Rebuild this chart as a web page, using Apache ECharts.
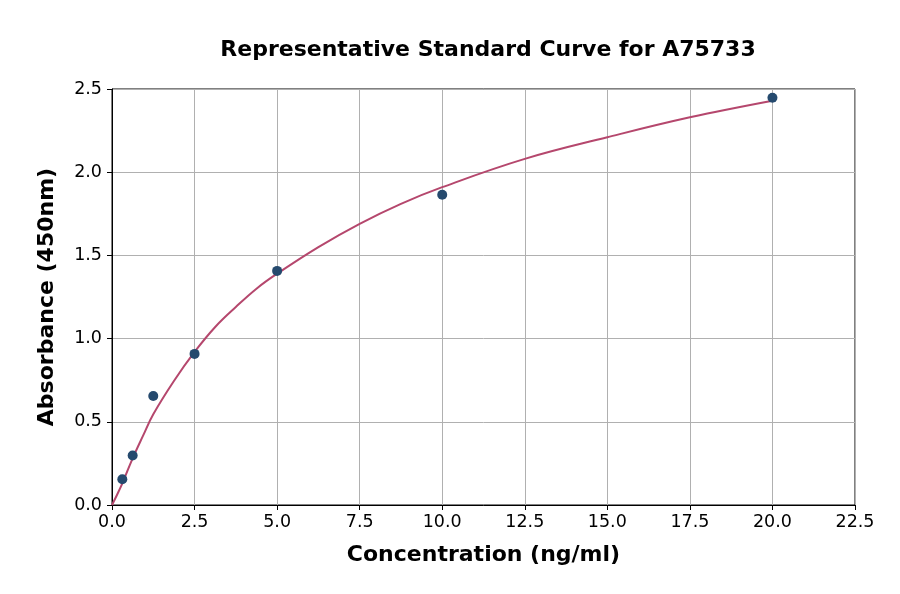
<!DOCTYPE html>
<html>
<head>
    <meta http-equiv="Content-Type" content="text/html; charset=utf-8" />
    <script type="text/javascript" src="https://cdn.jsdelivr.net/npm/echarts@6/dist/echarts.min.js"></script>
    <style>
        html, body { margin: 0; padding: 0; background: #fff; }
    </style>
</head>
<body>
<div id="main" style="width: 900px;height:594px;"></div>
<script type="text/javascript">
    // measured standards
    var concX = [0.3125, 0.625, 1.25, 2.5, 5, 10, 20];
    var absY = [0.155, 0.298, 0.655, 0.908, 1.407, 1.865, 2.447];

    // fitted curve
    var curveX = [0, 0.15, 0.3125, 0.625, 0.9375, 1.25, 1.875, 2.5, 3.125, 3.75, 4.375, 5, 6.25, 7.5, 8.75, 10, 12.5, 15, 17.5, 20];
    var curveY = [0, 0.06, 0.13, 0.28, 0.415, 0.545, 0.745, 0.92, 1.07, 1.19, 1.30, 1.39, 1.55, 1.69, 1.81, 1.91, 2.08, 2.21, 2.33, 2.43];

    var xTicks = [0, 2.5, 5, 7.5, 10, 12.5, 15, 17.5, 20, 22.5];
    var yTicks = [0, 0.5, 1.0, 1.5, 2.0, 2.5];

    var ptData = [];
    for (var i = 0; i < concX.length; i++) {
        ptData.push([concX[i], absY[i]]);
    }
    var lineData = [];
    for (var j = 0; j < curveX.length; j++) {
        lineData.push([curveX[j], curveY[j]]);
    }

    var font = 'DejaVu Sans';
    var myChart = echarts.init(document.getElementById('main'));
    var option = {
        backgroundColor: '#ffffff',
        animation: false,
        title: {
            text: 'Representative Standard Curve for A75733',
            left: 483,
            textAlign: 'center',
            top: 34,
            textStyle: { fontFamily: font, fontWeight: 'bold', fontSize: 22, color: '#000' }
        },
        grid: {
            left: 112, right: 45, top: 89, bottom: 89,
            show: true, borderColor: '#000', borderWidth: 1
        },
        xAxis: {
            type: 'value',
            min: xTicks[0],
            max: xTicks[xTicks.length - 1],
            interval: 2.5,
            name: 'Concentration (ng/ml)',
            nameLocation: 'middle',
            nameGap: 39,
            nameTextStyle: { fontFamily: font, fontWeight: 'bold', fontSize: 22, color: '#000' },
            axisLine: { show: true, lineStyle: { color: '#000', width: 1 } },
            axisTick: { show: true, inside: false, length: 5, lineStyle: { color: '#000' } },
            axisLabel: {
                fontFamily: font, fontSize: 17.5, color: '#000', margin: 8,
                formatter: function (v) { return v.toFixed(1); }
            },
            splitLine: { show: true, lineStyle: { color: '#b0b0b0', width: 1 } }
        },
        yAxis: {
            type: 'value',
            min: yTicks[0],
            max: yTicks[yTicks.length - 1],
            interval: 0.5,
            name: 'Absorbance (450nm)',
            nameLocation: 'middle',
            nameGap: 54,
            nameTextStyle: { fontFamily: font, fontWeight: 'bold', fontSize: 22, color: '#000' },
            axisLine: { show: true, lineStyle: { color: '#000', width: 1 } },
            axisTick: { show: true, inside: false, length: 5, lineStyle: { color: '#000' } },
            axisLabel: {
                fontFamily: font, fontSize: 17.5, color: '#000', margin: 10,
                formatter: function (v) { return v.toFixed(1); }
            },
            splitLine: { show: true, lineStyle: { color: '#b0b0b0', width: 1 } }
        },
        series: [
            {
                type: 'line',
                data: lineData,
                smooth: 0.4,
                showSymbol: false,
                lineStyle: { color: '#b5476d', width: 2 },
                z: 2
            },
            {
                type: 'scatter',
                data: ptData,
                symbolSize: 10,
                itemStyle: { color: '#254a6e', opacity: 1 },
                z: 3
            }
        ]
    };
    myChart.setOption(option);
</script>
</body>
</html>
